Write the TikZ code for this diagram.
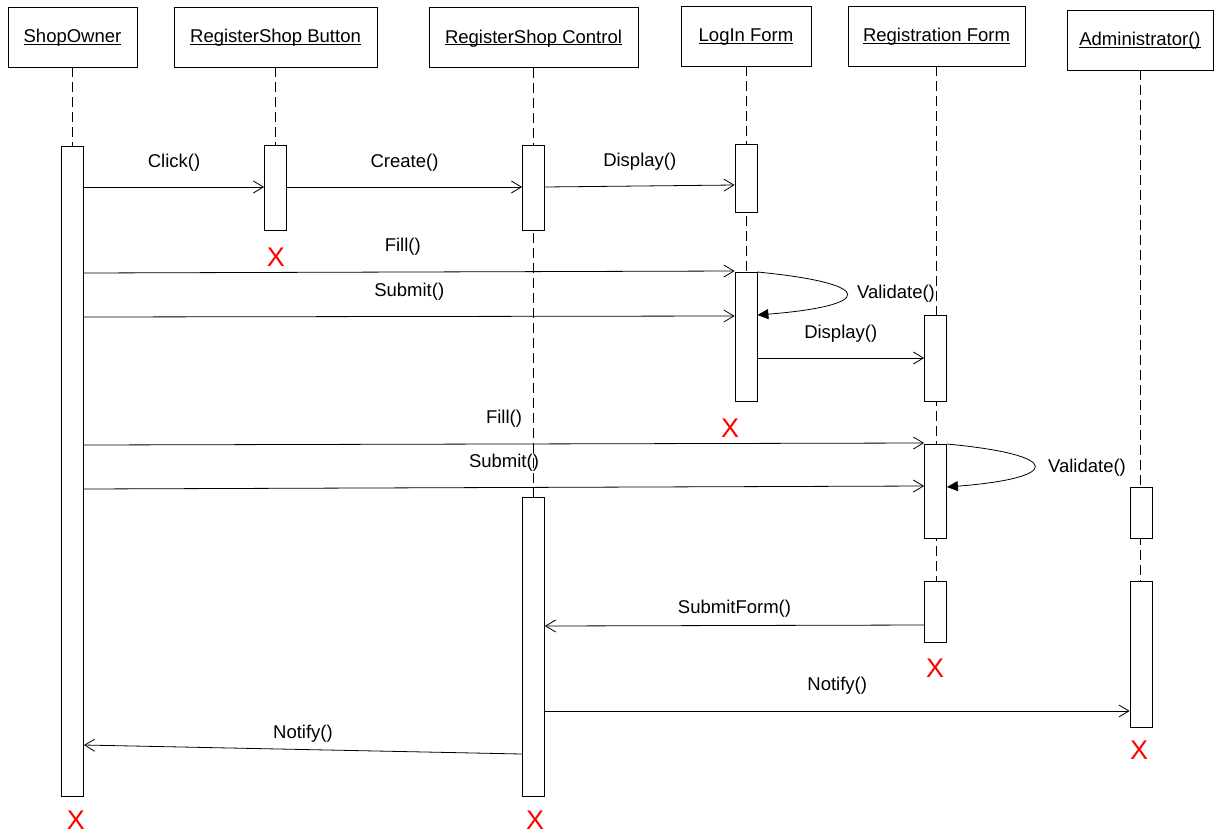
\documentclass[tikz,border=0pt]{standalone}
\usepackage{fontspec}
\setmainfont{Liberation Sans}
\usetikzlibrary{arrows.meta}
\newcommand{\ulhead}[1]{\setbox0\hbox{#1}\rlap{\rule[-1.9pt]{\wd0}{0.9pt}}\box0}
\begin{document}
\begin{tikzpicture}[x=1pt,y=-1pt,
  head/.style={draw, line width=0.8pt, minimum height=60pt, inner sep=0pt, text height=14.5pt, text depth=3.5pt, font=\fontsize{18.5}{22}\selectfont},
  life/.style={dash pattern=on 10pt off 5pt, line width=0.8pt},
  bar/.style={draw, fill=white, line width=0.8pt, minimum width=22pt, inner sep=0pt, anchor=north},
  msg/.style={-{Straight Barb[length=10pt,width=12pt]}, line width=0.8pt},
  selfmsg/.style={-{Triangle[length=11pt,width=10pt]}, line width=0.8pt},
  lbl/.style={font=\fontsize{18.5}{22}\selectfont, inner sep=0pt},
  kill/.style={text=red, font=\fontsize{27}{30}\selectfont, inner sep=0pt}]
\useasboundingbox (0,0) rectangle (1221,836);

% headers
\node[head, minimum width=129pt] (hso) at (72.5,37) {\ulhead{ShopOwner}};
\node[head, minimum width=203pt] (hbb) at (275.5,37) {\ulhead{RegisterShop Button}};
\node[head, minimum width=209pt] (hrc) at (533.5,37.5) {\ulhead{RegisterShop Control}};
\node[head, minimum width=130pt] (hlf) at (746,36) {\ulhead{LogIn Form}};
\node[head, minimum width=177pt] (hrf) at (936.5,36) {\ulhead{Registration Form}};
\node[head, minimum width=146pt] (had) at (1140,40) {\ulhead{Administrator()}};

% lifelines
\draw[life] (hso.south) -- (hso.south |- 0,796);
\draw[life] (hbb.south) -- (hbb.south |- 0,230);
\draw[life] (hrc.south) -- (hrc.south |- 0,796);
\draw[life] (hlf.south) -- (hlf.south |- 0,401);
\draw[life] (hrf.south) -- (hrf.south |- 0,642);
\draw[life] (had.south) -- (had.south |- 0,727);

% activation bars
\node[bar, minimum height=650pt] (so) at (72.5,146) {};
\node[bar, minimum height=85pt] (bb) at (275.5,145) {};
\node[bar, minimum height=85pt] (rc1) at (533.5,145) {};
\node[bar, minimum height=299pt] (rc2) at (533.5,497) {};
\node[bar, minimum height=68pt] (lf1) at (746,144) {};
\node[bar, minimum height=129pt] (lf2) at (746,272) {};
\node[bar, minimum height=86pt] (rf1) at (935.5,315) {};
\node[bar, minimum height=94pt] (rf2) at (935.5,444) {};
\node[bar, minimum height=61pt] (rf3) at (935.5,581) {};
\node[bar, minimum height=51pt] (ad1) at (1141,487) {};
\node[bar, minimum height=146pt] (ad2) at (1141,581) {};

% messages
\draw[msg] (so.east |- 0,187) -- (bb.west |- 0,187) node[lbl, midway, yshift=24pt] {Click()};
\draw[msg] (bb.east |- 0,187) -- (rc1.west |- 0,187) node[lbl, midway, yshift=24pt] {Create()};
\draw[msg] (rc1.east |- 0,187) -- (lf1.west |- 0,185) node[lbl, midway, yshift=24pt] {Display()};
\draw[msg] (so.east |- 0,273) -- (lf2.west |- 0,271) node[lbl, pos=0.49, yshift=25pt] {Fill()};
\draw[msg] (so.east |- 0,317) -- (lf2.west |- 0,316) node[lbl, midway, yshift=25pt] {Submit()};
\draw[selfmsg] (lf2.north east) .. controls (880,284) and (872,306) .. (lf2.north east |- 0,315);
\node[lbl] (v1) at (896,294) {Validate()};
\draw[msg] (lf2.east |- 0,358) -- (rf1.west |- 0,358) node[lbl, midway, yshift=24pt] {Display()};
\draw[msg] (so.east |- 0,445) -- (rf2.west |- 0,443) node[lbl, midway, yshift=25pt] {Fill()};
\draw[msg] (so.east |- 0,489) -- (rf2.west |- 0,486) node[lbl, midway, yshift=25pt] {Submit()};
\draw[selfmsg] (rf2.north east) .. controls (1064,455) and (1062,478) .. (rf2.north east |- 0,487);
\node[lbl] (v2) at (1087,468) {Validate()};
\draw[msg] (rf3.west |- 0,625) -- (rc2.east |- 0,626) node[lbl, midway, yshift=17pt] {SubmitForm()};
\draw[msg] (rc2.east |- 0,711) -- (ad2.west |- 0,711) node[lbl, midway, yshift=25pt] {Notify()};
\draw[msg] (rc2.west |- 0,754) -- (so.east |- 0,745) node[lbl, midway, yshift=16pt] {Notify()};

% destruction marks
\node[kill] (x1) at (276,257) {X};
\node[kill] (x2) at (730,428) {X};
\node[kill] (x3) at (935,668) {X};
\node[kill] (x4) at (1139,750) {X};
\node[kill] (x5) at (76,820) {X};
\node[kill] (x6) at (535,820) {X};
\end{tikzpicture}
\end{document}
